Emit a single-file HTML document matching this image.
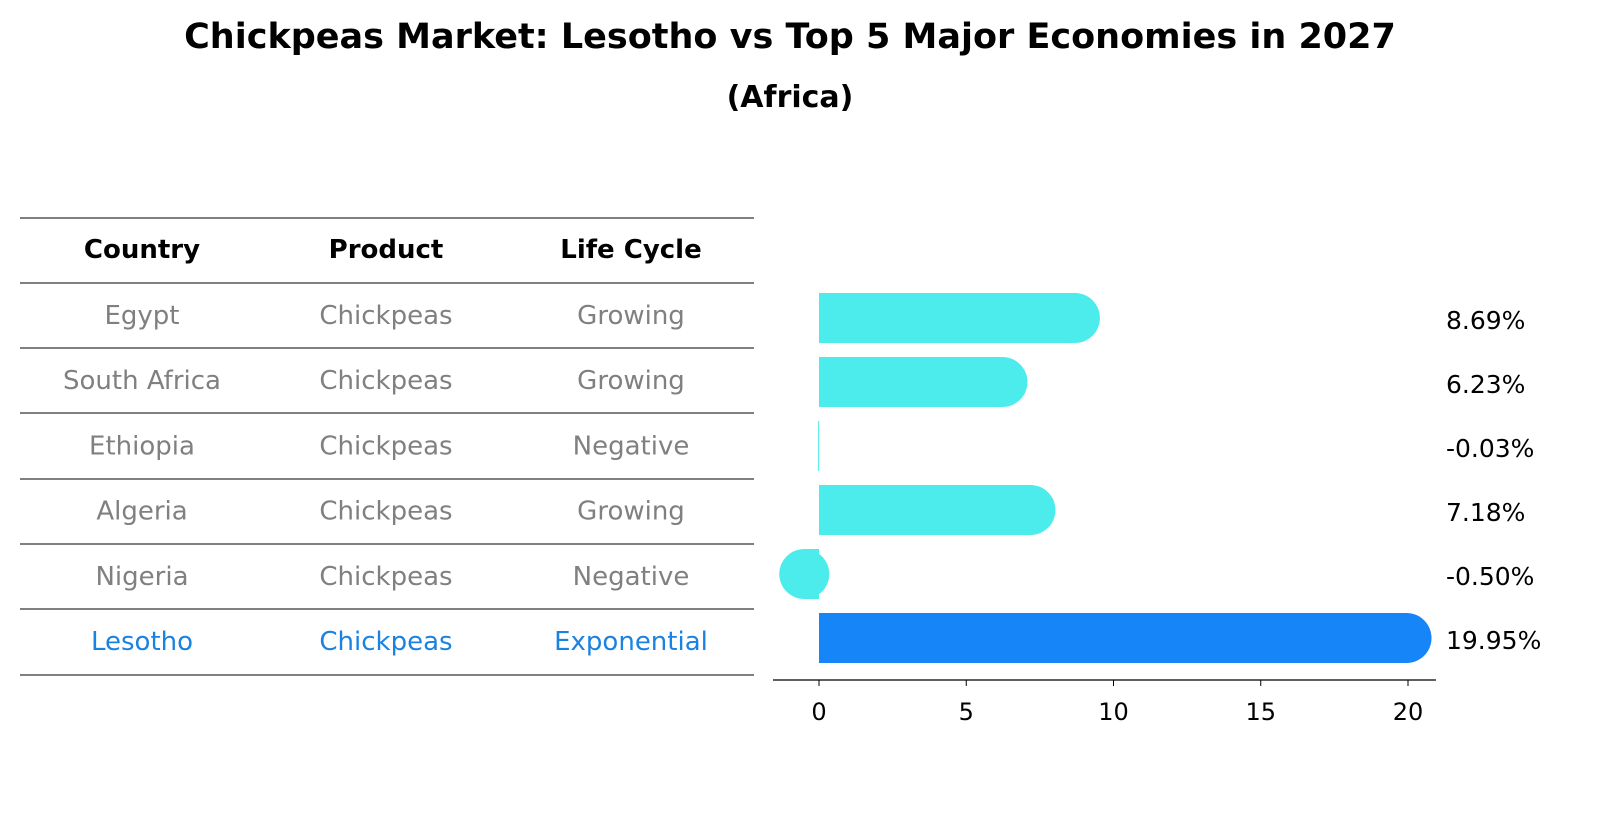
<!DOCTYPE html>
<html><head><meta charset="utf-8"><style>
html,body{margin:0;padding:0;background:#fff;overflow:hidden;width:1604px;height:823px;}
svg{display:block;}
</style></head><body>
<svg width="1604" height="823" xmlns="http://www.w3.org/2000/svg" font-family="DejaVu Sans, Liberation Sans, sans-serif">
<text x="790" y="48" text-anchor="middle" font-size="35" font-weight="bold">Chickpeas Market: Lesotho vs Top 5 Major Economies in 2027</text>
<text x="790" y="107" text-anchor="middle" font-size="30" font-weight="bold">(Africa)</text>
<g id="table"></g>
<g id="bars"></g>
</svg>
<script>
const countries=["Egypt","South Africa","Ethiopia","Algeria","Nigeria","Lesotho"];
const products=["Chickpeas","Chickpeas","Chickpeas","Chickpeas","Chickpeas","Chickpeas"];
const lifecycles=["Growing","Growing","Negative","Growing","Negative","Exponential"];
const values=[8.69,6.23,-0.03,7.18,-0.50,19.95];
const ticks=[0,5,10,15,20];
const NS="http://www.w3.org/2000/svg";
function mk(t,a,p){const e=document.createElementNS(NS,t);for(const k in a)e.setAttribute(k,a[k]);p.appendChild(e);return e;}
const tbl=document.getElementById('table');
const lineYs=[218,283,348,413,479,544,609,675];
lineYs.forEach(y=>{const l=mk('line',{x1:20,x2:754,y1:y,y2:y,stroke:'#000','stroke-width':1},tbl);

});
const colX=[142,386,631];
["Country","Product","Life Cycle"].forEach((h,i)=>{const t=mk('text',{x:colX[i],y:258,'text-anchor':'middle','font-size':26,'font-weight':'bold'},tbl);t.textContent=h;

});
countries.forEach((c,r)=>{const last=r===countries.length-1;const y=324+r*65.2;
[c,products[r],lifecycles[r]].forEach((v,i)=>{const t=mk('text',{x:colX[i],y:y,'text-anchor':'middle','font-size':26,fill:last?'#1a82e0':'#808080'},tbl);t.textContent=v;

});});
const g=document.getElementById('bars');
const x0=819,sc=(1408-819)/20;const X=v=>x0+v*sc;
const rowY=r=>318+r*64;const R=25;
values.forEach((v,r)=>{const last=r===values.length-1;const col=last?'#1685f8':'#4beceb';const cy=rowY(r);
const xa=Math.min(X(0),X(v)),w=Math.abs(X(v)-X(0));
const b=mk('rect',{x:xa,y:cy-R,width:Math.max(w,1),height:2*R,fill:col},g);


if(Math.abs(v)>0.1){const c=mk('circle',{cx:X(v),cy:cy,r:R,fill:col},g);

}
const t=mk('text',{x:1446,y:cy+11,'font-size':25},g);t.textContent=v.toFixed(2)+'%';

});
const ax=mk('line',{x1:773,x2:1436,y1:680,y2:680,stroke:'#000','stroke-width':1.3},g);


ticks.forEach(v=>{const tk=mk('line',{x1:X(v),x2:X(v),y1:680,y2:686,stroke:'#000'},g);


const t=mk('text',{x:X(v),y:720,'text-anchor':'middle','font-size':24},g);t.textContent=v;

});
</script>
</body></html>
